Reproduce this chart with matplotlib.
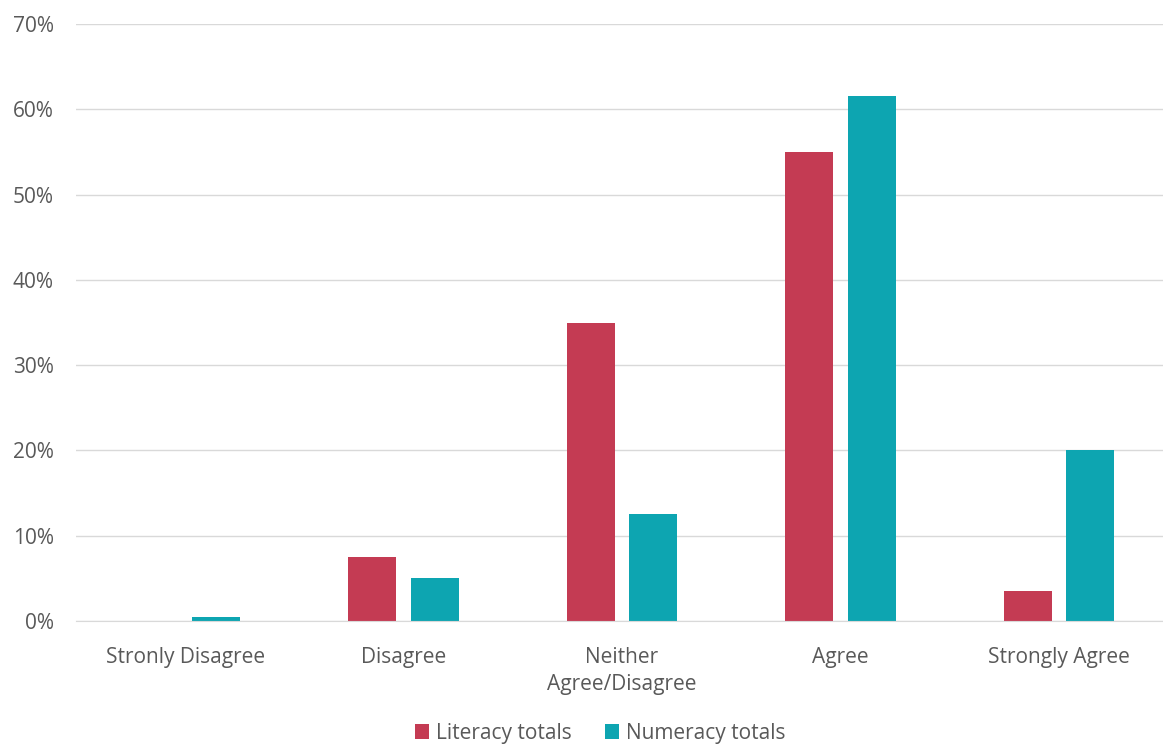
import matplotlib.pyplot as plt
import numpy as np
from matplotlib.ticker import PercentFormatter

plt.rcParams['font.family'] = ['Open Sans', 'DejaVu Sans']

categories = ['Stronly Disagree', 'Disagree', 'Neither\nAgree/Disagree', 'Agree', 'Strongly Agree']
literacy = [0.0, 7.5, 35.0, 55.0, 3.5]
numeracy = [0.5, 5.0, 12.5, 61.5, 20.0]

RED = '#C43B53'
TEAL = '#0DA5B1'
TEXT = '#595959'
FS = 15

fig = plt.figure(figsize=(11.63, 7.45), dpi=100)
ax = fig.add_axes([76 / 1163, 124 / 745, 1092 / 1163, 597 / 745])

x = np.arange(len(categories))
WIDTH = 0.22
ax.bar(x - 0.143, literacy, width=WIDTH, color=RED, label='Literacy totals', zorder=3)
ax.bar(x + 0.143, numeracy, width=WIDTH, color=TEAL, label='Numeracy totals', zorder=3)

ax.set_xlim(-0.5, len(categories) - 0.5)
ax.set_ylim(0, 70)
ax.set_yticks(np.arange(0, 71, 10))
ax.yaxis.set_major_formatter(PercentFormatter(decimals=0))
ax.yaxis.grid(True, color='#D9D9D9', linewidth=1, zorder=0)

for s in ['top', 'right', 'left']:
    ax.spines[s].set_visible(False)
ax.spines['bottom'].set_color('#D9D9D9')
ax.spines['bottom'].set_zorder(4)

ax.set_xticks(x)
ax.set_xticklabels(categories, fontsize=FS, color=TEXT, linespacing=1.35)
ax.tick_params(axis='x', length=0, pad=19)
ax.tick_params(axis='y', length=0, pad=16, labelsize=FS, labelcolor=TEXT)

leg = fig.legend(loc='center', bbox_to_anchor=(600 / 1163, 1 - 733 / 745), ncol=2,
                 frameon=False, fontsize=FS, handlelength=0.7, handleheight=0.7,
                 handletextpad=0.3, columnspacing=1.6, labelcolor=TEXT)

fig.savefig('out.png', dpi=100)
